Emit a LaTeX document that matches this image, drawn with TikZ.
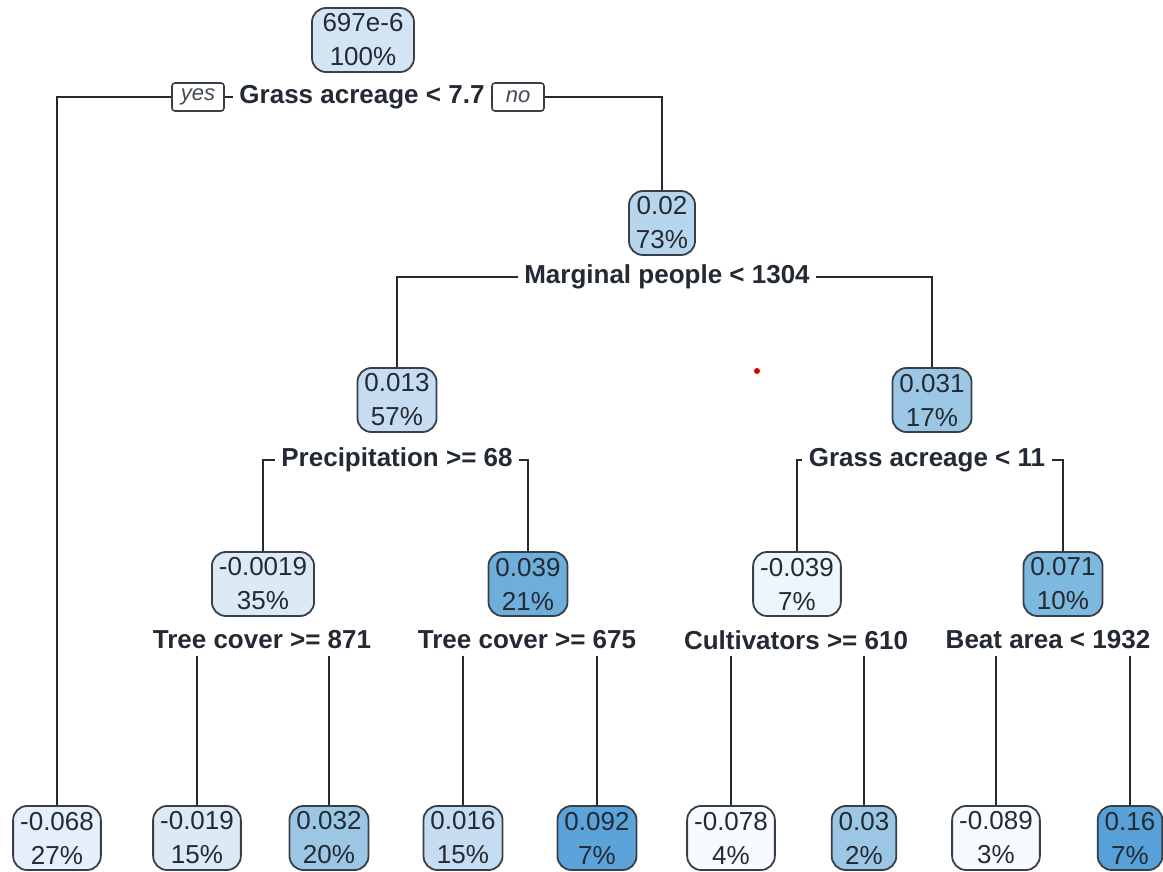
\documentclass[tikz,border=0pt]{standalone}
\usepackage{fontspec}
\setmainfont{Liberation Sans}
\usetikzlibrary{positioning}
\definecolor{cwhite}{HTML}{F7FBFF}
\definecolor{cpale}{HTML}{EEF5FC}
\definecolor{clight}{HTML}{E6F0FA}
\definecolor{cneg}{HTML}{DCEAF6}
\definecolor{croot}{HTML}{D3E5F4}
\definecolor{cmid}{HTML}{C6DCF0}
\definecolor{cmidb}{HTML}{B8D5EE}
\definecolor{cblue}{HTML}{9CC7E4}
\definecolor{cdeep}{HTML}{7DB8DF}
\definecolor{cdeeper}{HTML}{6DAEDB}
\definecolor{cdark}{HTML}{5CA3DA}
\definecolor{cdarkest}{HTML}{58A0D8}
\definecolor{ink}{HTML}{232A33}

\begin{document}
\begin{tikzpicture}[x=0.5pt,y=-0.5pt,
  tnode/.style={rectangle,draw=ink!90,line width=0.9pt,rounded corners=7pt,minimum height=32pt,inner xsep=3.5pt,inner ysep=2pt,align=center,font=\fontsize{13}{17}\selectfont,text=ink},
  split/.style={font=\fontsize{13}{15}\selectfont\bfseries,inner sep=3pt,text=ink},
  yn/.style={rectangle,draw=ink!90,fill=white,line width=0.8pt,rounded corners=1.5pt,font=\fontsize{11}{13}\selectfont\itshape,text=ink!85,minimum width=26pt,minimum height=14pt,inner sep=1pt},
  link/.style={draw=ink,line width=0.95pt}
]
\useasboundingbox (0,0) rectangle (1163,872);
% root and first split
\node[tnode,fill=croot,minimum width=51pt] (root) at (363,40) {697e-6\\100\%};
\node[split] (s1) at (362,97) {Grass acreage < 7.7};
\node[yn] (yes) at (198,97) {yes};
\node[yn] (no) at (518,97) {no};
% inner nodes
\node[tnode,fill=cmidb] (n2) at (662,223) {0.02\\73\%};
\node[split] (s2) at (667,277) {Marginal people < 1304};
\node[tnode,fill=cmid] (n3) at (397,400) {0.013\\57\%};
\node[tnode,fill=cblue] (n4) at (932,400) {0.031\\17\%};
\node[split] (s3) at (397,460) {Precipitation >= 68};
\node[split] (s4) at (927,460) {Grass acreage < 11};
\node[tnode,fill=cneg] (n5) at (263,584) {-0.0019\\35\%};
\node[tnode,fill=cdeeper] (n6) at (528,584) {0.039\\21\%};
\node[tnode,fill=cpale] (n7) at (797,584) {-0.039\\7\%};
\node[tnode,fill=cdeep] (n8) at (1063,584) {0.071\\10\%};
\node[split] (s5) at (262,640) {Tree cover >= 871};
\node[split] (s6) at (527,640) {Tree cover >= 675};
\node[split] (s7) at (796,640) {Cultivators >= 610};
\node[split] (s8) at (1048,640) {Beat area < 1932};
% leaves
\node[tnode,fill=clight] (l1) at (57,838) {-0.068\\27\%};
\node[tnode,fill=cneg] (l2) at (197,838) {-0.019\\15\%};
\node[tnode,fill=cblue] (l3) at (329,838) {0.032\\20\%};
\node[tnode,fill=cmid] (l4) at (463,838) {0.016\\15\%};
\node[tnode,fill=cdark] (l5) at (597,838) {0.092\\7\%};
\node[tnode,fill=cwhite] (l6) at (731,838) {-0.078\\4\%};
\node[tnode,fill=cblue] (l7) at (864,838) {0.03\\2\%};
\node[tnode,fill=cwhite] (l8) at (996,838) {-0.089\\3\%};
\node[tnode,fill=cdarkest] (l9) at (1130,838) {0.16\\7\%};
% connectors
\draw[link] (s1.west) -- (yes.east);
\draw[link] (yes.west) -| (l1.north);
\draw[link] (s1.east) -- (no.west);
\draw[link] (no.east) -| (n2.north);
\draw[link] (s2.west) -| (n3.north);
\draw[link] (s2.east) -| (n4.north);
\draw[link] (s3.west) -| (n5.north);
\draw[link] (s3.east) -| (n6.north);
\draw[link] (s4.west) -| (n7.north);
\draw[link] (s4.east) -| (n8.north);
\foreach \s/\a/\b in {s5/l2/l3,s6/l4/l5,s7/l6/l7,s8/l8/l9}{
  \draw[link] (\a.north |- \s.south) -- (\a.north);
  \draw[link] (\b.north |- \s.south) -- (\b.north);
}
\fill[red!85!black] (757,371) circle (1.5pt);
\end{tikzpicture}
\end{document}
